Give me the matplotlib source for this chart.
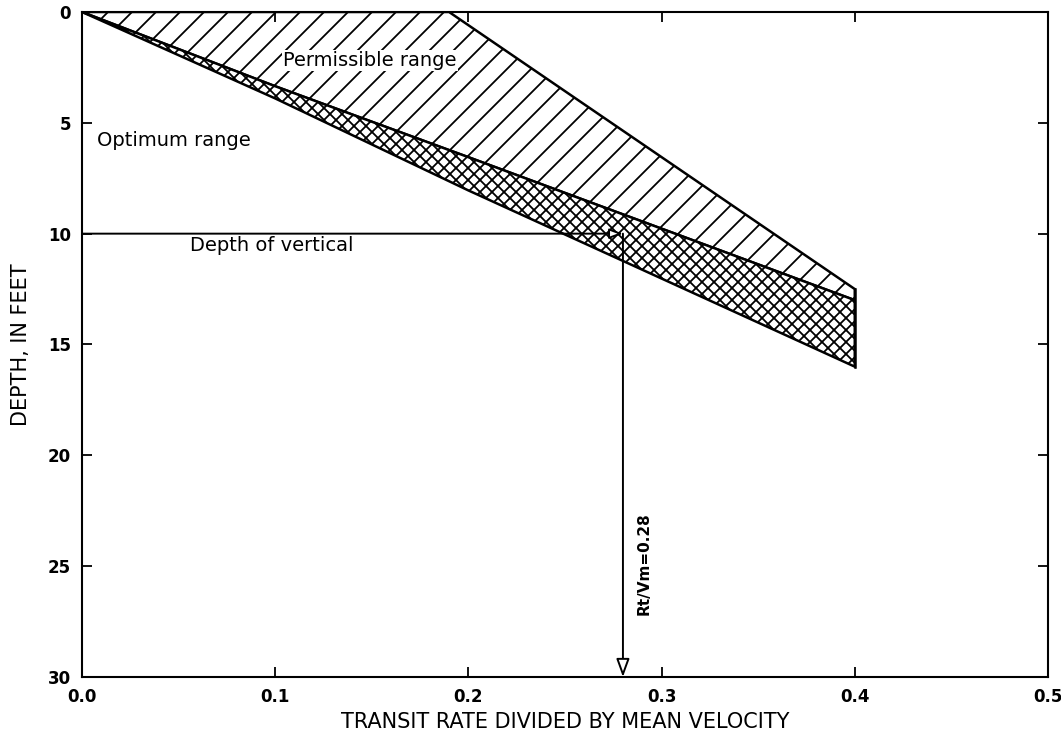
import matplotlib
matplotlib.use("Agg")
import matplotlib.pyplot as plt
from matplotlib.patches import Polygon

# ---- data ----
# top boundary of the permissible range
perm_top_x = [0.0, 0.19, 0.40]
perm_top_y = [0.0, 0.0, 12.5]
# boundary between permissible and optimum ranges
mid_x = [0.0, 0.10, 0.20, 0.40]
mid_y = [0.0, 3.35, 6.55, 13.0]
# lower boundary of the optimum range
low_x = [0.0, 0.10, 0.20, 0.40]
low_y = [0.0, 3.9, 8.05, 16.0]

depth_of_vertical = 10.0
rt_vm = 0.28

x_ticks = [0.0, 0.1, 0.2, 0.3, 0.4, 0.5]
x_ticklabels = ["0.0", "0.1", "0.2", "0.3", "0.4", "0.5"]
y_ticks = [0, 5, 10, 15, 20, 25, 30]

DPI = 72
k = 100.0 / DPI  # keep pixel sizes as if at 100 dpi

plt.rcParams['hatch.linewidth'] = 1.8
plt.rcParams['font.family'] = ['DejaVu Sans']

fig = plt.figure(figsize=(1061 / DPI, 731 / DPI), dpi=DPI)
ax = fig.add_axes([0.0773, 0.0739, 0.9104, 0.9097])

# permissible range polygon (single hatch)
perm_pts = list(zip(perm_top_x, perm_top_y)) + list(zip(mid_x[::-1], mid_y[::-1]))
ax.add_patch(Polygon(perm_pts, closed=True, facecolor='white', edgecolor='black',
                     hatch='/', linewidth=1.8 * k))
# optimum range polygon (cross hatch)
opt_pts = list(zip(mid_x, mid_y)) + list(zip(low_x[::-1], low_y[::-1]))
ax.add_patch(Polygon(opt_pts, closed=True, facecolor='white', edgecolor='black',
                     hatch='xx', linewidth=1.8 * k))
# outline (vertical closing line at x=0.4)
ax.plot([perm_top_x[-1], low_x[-1]], [perm_top_y[-1], low_y[-1]], color='black', lw=1.8 * k)

# depth-of-vertical line with arrowhead
ax.annotate('', xy=(rt_vm, depth_of_vertical), xytext=(0.0, depth_of_vertical),
            arrowprops=dict(arrowstyle='-|>,head_length=0.8,head_width=0.3',
                            facecolor='white', edgecolor='black', lw=1.4 * k,
                            shrinkA=0, shrinkB=0, mutation_scale=10 * k))
ax.annotate('', xy=(rt_vm, 30), xytext=(rt_vm, depth_of_vertical),
            arrowprops=dict(arrowstyle='-|>,head_length=1.1,head_width=0.4',
                            facecolor='white', edgecolor='black', lw=1.4 * k,
                            shrinkA=0, shrinkB=0, mutation_scale=10 * k))

fs = 14 * k
ax.text(0.149, 2.2, "Permissible range", fontsize=fs, ha='center', va='center',
        bbox=dict(facecolor='white', edgecolor='none', pad=1))
ax.text(0.008, 5.8, "Optimum range", fontsize=fs, ha='left', va='center')
ax.text(0.056, 10.55, "Depth of vertical", fontsize=fs, ha='left', va='center')
ax.text(0.291, 24.9, "Rt/Vm=0.28", fontsize=11 * k, rotation=90, ha='center', va='center',
        fontweight='bold')

ax.set_xlim(0, 0.5)
ax.set_ylim(30, 0)
ax.set_xticks(x_ticks)
ax.set_xticklabels(x_ticklabels)
ax.set_yticks(y_ticks)
ax.tick_params(direction='in', length=7 * k, width=1.3 * k, top=True, right=True,
               labelsize=12 * k, pad=8 * k)
for lab in ax.get_xticklabels() + ax.get_yticklabels():
    lab.set_fontweight('bold')
for s in ax.spines.values():
    s.set_linewidth(1.5 * k)

ax.set_xlabel("TRANSIT RATE DIVIDED BY MEAN VELOCITY", fontsize=15 * k, labelpad=4 * k)
ax.set_ylabel("DEPTH, IN FEET", fontsize=15 * k, labelpad=12 * k)

fig.savefig("out.png", dpi=DPI)
